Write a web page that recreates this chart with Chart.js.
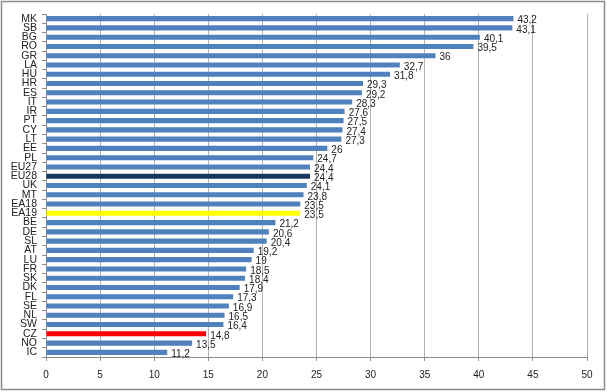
<!DOCTYPE html>
<html>
<head>
<meta charset="utf-8">
<script src="https://cdn.jsdelivr.net/npm/chart.js@4"></script>
<style>
  html, body { margin: 0; padding: 0; background: #fff; }
  #wrap { width: 607px; height: 392px; position: relative; }
</style>
</head>
<body>
<div id="wrap"><canvas id="chart" width="607" height="392"></canvas></div>
<script>
const labels = ['MK','SB','BG','RO','GR','LA','HU','HR','ES','IT','IR','PT','CY','LT','EE','PL','EU27','EU28','UK','MT','EA18','EA19','BE','DE','SL','AT','LU','FR','SK','DK','FL','SE','NL','SW','CZ','NO','IC'];
const values = [43.2,43.1,40.1,39.5,36,32.7,31.8,29.3,29.2,28.3,27.6,27.5,27.4,27.3,26,24.7,24.4,24.4,24.1,23.8,23.5,23.5,21.2,20.6,20.4,19.2,19,18.5,18.4,17.9,17.3,16.9,16.5,16.4,14.8,13.5,11.2];
const highlight = { EU28: '#17375e', EA19: '#ffff00', CZ: '#ff0000' };

const barColors = labels.map(l => highlight[l] || '#4f81bd');
const FONT = '"Liberation Sans Narrow", "Liberation Sans", Arial, sans-serif';

// frame round the whole picture
const framePlugin = {
    id: 'frame',
    beforeDraw(chart) {
        const ctx = chart.ctx;
        ctx.save();
        ctx.fillStyle = '#fff';
        ctx.fillRect(0, 0, chart.width, chart.height);
        ctx.strokeStyle = '#8c8c8c';
        ctx.lineWidth = 1.5;
        ctx.strokeRect(1.5, 1.5, 603, 388);
        ctx.restore();
    }
};

// value labels next to bars, decimal comma
const valueLabels = {
    id: 'valueLabels',
    afterDatasetsDraw(chart) {
        const ctx = chart.ctx;
        const meta = chart.getDatasetMeta(0);
        ctx.save();
        ctx.font = '10px ' + FONT;
        ctx.fillStyle = '#222';
        ctx.textBaseline = 'middle';
        ctx.textAlign = 'left';
        meta.data.forEach((bar, i) => {
            const txt = String(values[i]).replace('.', ',');
            ctx.fillText(txt, bar.x + 4, bar.y + 2);
        });
        ctx.restore();
    }
};

new Chart(document.getElementById('chart'), {
    type: 'bar',
    data: {
        labels: labels,
        datasets: [{
            data: values,
            backgroundColor: barColors,
            barPercentage: 0.55,
            categoryPercentage: 1
        }]
    },
    options: {
        indexAxis: 'y',
        responsive: false,
        animation: false,
        layout: { padding: { left: 0, top: 14, right: 20, bottom: 0 } },
        plugins: { legend: { display: false }, tooltip: { enabled: false } },
        scales: {
            x: {
                min: 0, max: 50,
                ticks: { stepSize: 5, color: '#222', padding: 8, font: { size: 10, family: FONT } },
                grid: { color: '#b4b4b4', tickLength: 4, tickColor: '#8c8c8c' },
                border: { color: '#8c8c8c' },
                afterFit(scale) { scale.height = 35; }
            },
            y: {
                ticks: { color: '#222', padding: 5, autoSkip: false, font: { size: 10.5, family: FONT } },
                grid: { drawOnChartArea: false, tickLength: 4, color: '#8c8c8c' },
                border: { color: '#8c8c8c' },
                afterFit(scale) { scale.width = 46; }
            }
        }
    },
    plugins: [framePlugin, valueLabels]
});
</script>
</body>
</html>
